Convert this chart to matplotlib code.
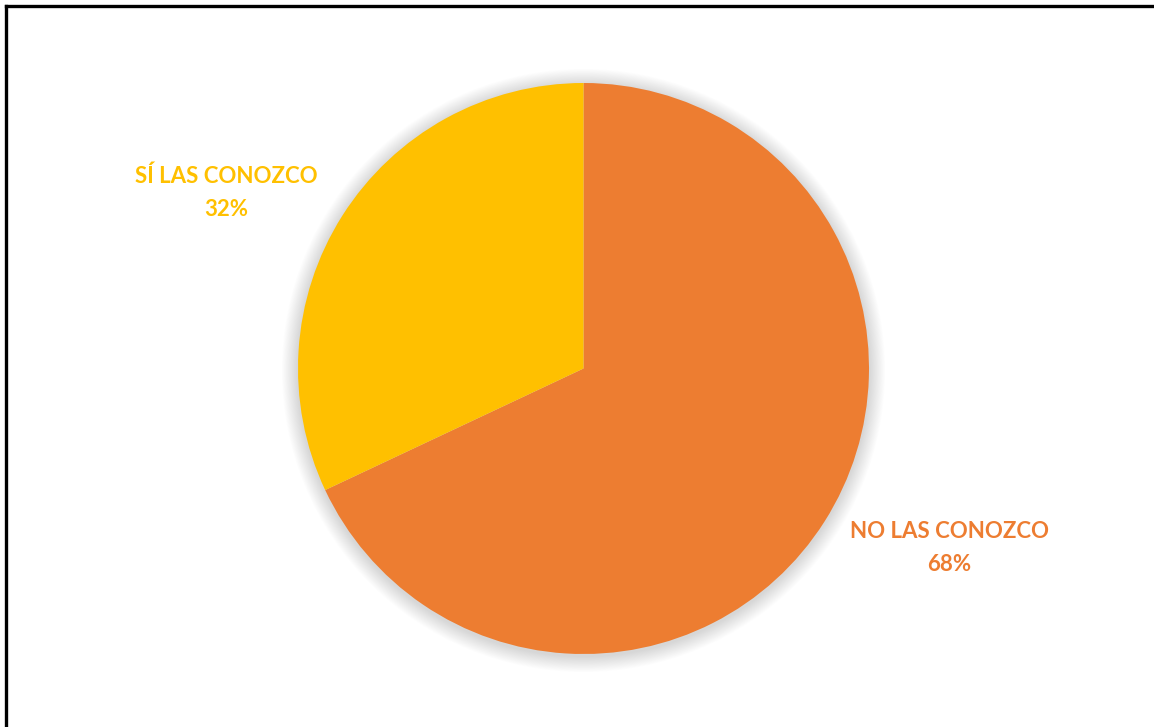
import numpy as np
import matplotlib
matplotlib.use("Agg")
from matplotlib import pyplot as plt
from matplotlib.lines import Line2D
from matplotlib.patches import Circle

# survey answers
categories = ["NO LAS CONOZCO", "SÍ LAS CONOZCO"]
shares = [68, 32]
colors = ["#ED7D31", "#FFC000"]

W, H = 1154, 727
fig = plt.figure(figsize=(W / 100, H / 100), dpi=100)
ax = fig.add_axes([0, 0, 1, 1])

cx, cy, r = 583.5, H - 368.5, 285.5

# soft glow behind the pie
for k in range(20):
    ax.add_patch(Circle((cx, cy - 2), r + 1 + k * 0.8, color="black",
                        alpha=0.007, lw=0, zorder=0))

wedges, _ = ax.pie(shares, colors=colors, startangle=90, counterclock=False,
                   center=(cx, cy), radius=r,
                   wedgeprops=dict(linewidth=0))
for w in wedges:
    w.set_zorder(2)

# labels outside the wedges
label_pos = [(949, H - 548), (226, H - 193)]
for name, val, col, (lx, ly) in zip(categories, shares, colors, label_pos):
    ax.text(lx, ly, f"{name}\n{val}%", color=col, ha="center", va="center",
            fontsize=16, fontweight="bold", family="Lato", linespacing=1.7)

ax.set_xlim(0, W)
ax.set_ylim(0, H)
ax.set_aspect("auto")
ax.axis("off")

# frame lines (top and left)
fig.add_artist(Line2D([5.5 / W, 1], [1 - 6 / H, 1 - 6 / H], color="black", lw=2.4,
                      transform=fig.transFigure))
fig.add_artist(Line2D([5.5 / W, 5.5 / W], [0, 1 - 6 / H], color="black", lw=2.4,
                      transform=fig.transFigure))

fig.savefig("out.png", dpi=100)
